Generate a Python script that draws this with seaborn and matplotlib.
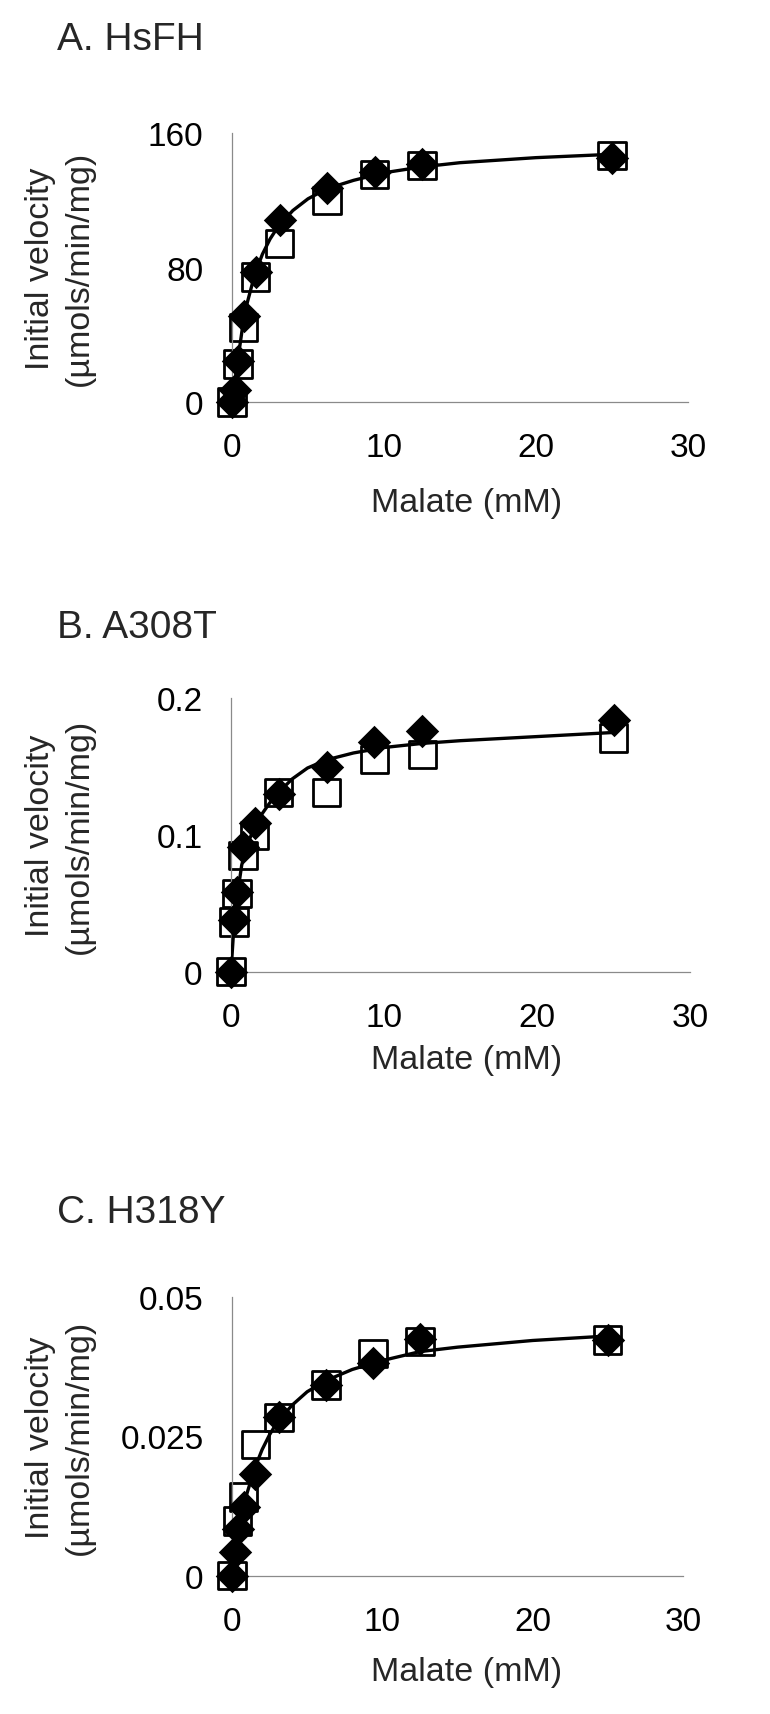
import matplotlib
matplotlib.use("Agg")
import matplotlib.pyplot as plt
import seaborn as sns
import pandas as pd

# malate concentrations (mM)
malate_diamond = [0, 0.195, 0.39, 0.78, 1.56, 3.125, 6.25, 9.375, 12.5, 25]
malate_square_a = [0, 0.39, 0.78, 1.56, 3.125, 6.25, 9.375, 12.5, 25]
malate_square_b = [0, 0.195, 0.39, 0.78, 1.56, 3.125, 6.25, 9.375, 12.5, 25]
malate_square_c = [0, 0.39, 0.78, 1.56, 3.125, 6.25, 9.375, 12.5, 25]
curve_x = [0, 0.2, 0.4, 0.7, 1.0, 1.5, 2.0, 2.5, 3.0, 4.0, 5.0, 6.25, 8.0, 10.0, 12.5, 15.0, 20.0, 25.0]

# A. HsFH
hsfh_diamond = [0, 7, 24.5, 51.5, 77.5, 108.5, 127.5, 137, 141.5, 145.5]
hsfh_square = [0, 22.6, 44.5, 74.5, 94.5, 120, 135.5, 141, 147]
hsfh_curve = [0, 13, 26, 45, 59, 76, 88, 97, 104, 114, 121, 127, 132, 136.5, 140, 142.5, 145.5, 147.5]

# B. A308T
a308t_diamond = [0, 0.0375, 0.058, 0.091, 0.109, 0.130, 0.150, 0.168, 0.176, 0.184]
a308t_square = [0, 0.0363, 0.0572, 0.0849, 0.0995, 0.131, 0.131, 0.155, 0.159, 0.171]
a308t_curve = [0, 0.035, 0.055, 0.078, 0.091, 0.105, 0.115, 0.123, 0.130, 0.141, 0.149, 0.155,
               0.160, 0.164, 0.167, 0.169, 0.172, 0.175]

# C. H318Y
h318y_diamond = [0, 0.0042, 0.0084, 0.0123, 0.0183, 0.0285, 0.0342, 0.0381, 0.0424, 0.0423]
h318y_square = [0, 0.0098, 0.0141, 0.0236, 0.0284, 0.0342, 0.0398, 0.0420, 0.0423]
h318y_curve = [0, 0.0040, 0.0073, 0.0115, 0.0148, 0.0192, 0.0226, 0.0253, 0.0275, 0.0306, 0.0330,
               0.0350, 0.0370, 0.0386, 0.0402, 0.0410, 0.0422, 0.0430]

titles = ["A. HsFH", "B. A308T", "C. H318Y"]
yticks = [[0, 80, 160], [0, 0.1, 0.2], [0, 0.025, 0.05]]
ytick_labels = [["0", "80", "160"], ["0", "0.1", "0.2"], ["0", "0.025", "0.05"]]
xticks = [0, 10, 20, 30]
xtick_labels = ["0", "10", "20", "30"]

panels = [
    (malate_diamond, hsfh_diamond, malate_square_a, hsfh_square, hsfh_curve),
    (malate_diamond, a308t_diamond, malate_square_b, a308t_square, a308t_curve),
    (malate_diamond, h318y_diamond, malate_square_c, h318y_square, h318y_curve),
]

sns.set_style("white")
plt.rcParams['font.family'] = ['Liberation Sans', 'DejaVu Sans']

W, H = 770, 1715
fig = plt.figure(figsize=(W / 100, H / 100), dpi=100)

# axes boxes in pixels: left, right, top, bottom
boxes = [(232, 688, 134.3, 403), (231, 690, 699.3, 972.7), (232, 683, 1298, 1576.7)]
title_y = [36, 624, 1209]
xlabel_y = [504, 1060, 1673]

grey = "#8a8a8a"
for i, (xd, yd, xs, ys, yc) in enumerate(panels):
    l, r, t, b = boxes[i]
    ax = fig.add_axes([l / W, 1 - b / H, (r - l) / W, (b - t) / H])

    sq = pd.DataFrame({"x": xs, "y": ys})
    dm = pd.DataFrame({"x": xd, "y": yd})
    cv = pd.DataFrame({"x": curve_x, "y": yc})

    # open squares, fitted curve, then filled diamonds on top
    sns.scatterplot(data=sq, x="x", y="y", marker="s", s=385, color="black",
                    facecolor="none", edgecolor="black", linewidth=2.0,
                    clip_on=False, zorder=2, ax=ax)
    sns.lineplot(data=cv, x="x", y="y", color="black", lw=2.4, estimator=None,
                 zorder=3, ax=ax)
    sns.scatterplot(data=dm, x="x", y="y", marker="D", s=290, color="black",
                    linewidth=0, clip_on=False, zorder=4, ax=ax)

    ax.set_xlim(0, 30)
    ax.set_ylim(0, yticks[i][-1])
    ax.set_xticks(xticks)
    ax.set_xticklabels(xtick_labels)
    ax.set_yticks(yticks[i])
    ax.set_yticklabels(ytick_labels[i])
    ax.set_xlabel("")
    ax.set_ylabel("")
    sns.despine(ax=ax)
    for s in ["left", "bottom"]:
        ax.spines[s].set_color(grey)
        ax.spines[s].set_linewidth(0.9)
    ax.tick_params(axis="both", length=6.5, width=0.9, color=grey, labelsize=24,
                   labelcolor="black")
    ax.tick_params(axis="y", pad=14)
    ax.tick_params(axis="x", pad=15)

    fig.text(57 / W, 1 - (title_y[i] + 14) / H, titles[i], fontsize=28,
             ha="left", va="baseline")
    fig.text(467 / W, 1 - xlabel_y[i] / H, "Malate (mM)", fontsize=24.5,
             ha="center", va="center")
    fig.text(60 / W, 1 - ((t + b) / 2) / H, "Initial velocity\n(µmols/min/mg)",
             fontsize=24.5, rotation=90, ha="center", va="center",
             linespacing=1.3, multialignment="center")

fig.savefig("out.png", dpi=100)
